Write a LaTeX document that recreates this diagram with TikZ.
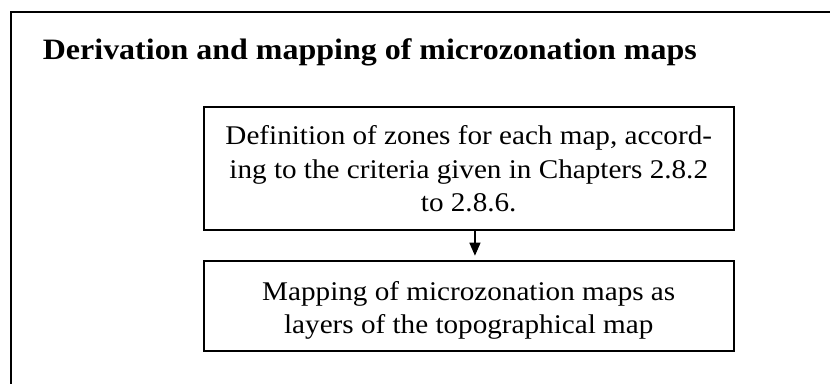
\documentclass[tikz,border=0pt]{standalone}
\usepackage{fontspec}
\setmainfont{Liberation Serif}[FakeStretch=1.08]
\usetikzlibrary{arrows.meta}
\newcommand\firstline{\rule{0pt}{13.8pt}}
\tikzset{
  zonebox/.style={draw=black,line width=1pt,align=center,inner sep=0pt,
    font=\fontsize{13.5}{16.65}\selectfont},
  flow/.style={-{Triangle[width=5.5pt,length=6.5pt]},line width=0.65pt,black}
}
\begin{document}
\begin{tikzpicture}[x=0.5pt,y=-0.5pt]
\useasboundingbox (0,0) rectangle (830,384);
\clip (0,0) rectangle (830,384);
\draw[line width=1pt,black] (10.7,11.7) rectangle (845,400);

\node[anchor=base west,inner sep=0pt,font=\fontsize{14.8}{17}\selectfont\bfseries] (title) at (42.5,60) {Derivation and mapping of microzonation maps};

\node[zonebox,minimum width=265.25pt,minimum height=61.75pt] (zones) at (468.75,168.75)
  {Definition of zones for each map, accord-\\ing to the criteria given in Chapters 2.8.2\\to 2.8.6.};
\node[zonebox,minimum width=265.25pt,minimum height=45.15pt] (layers) at (468.75,305.85)
  {\firstline Mapping of microzonation maps as\\layers of the topographical map};

\draw[flow] ([xshift=3.1pt]zones.south) -- ([xshift=3.1pt,yshift=2pt]layers.north);
\end{tikzpicture}
\end{document}
